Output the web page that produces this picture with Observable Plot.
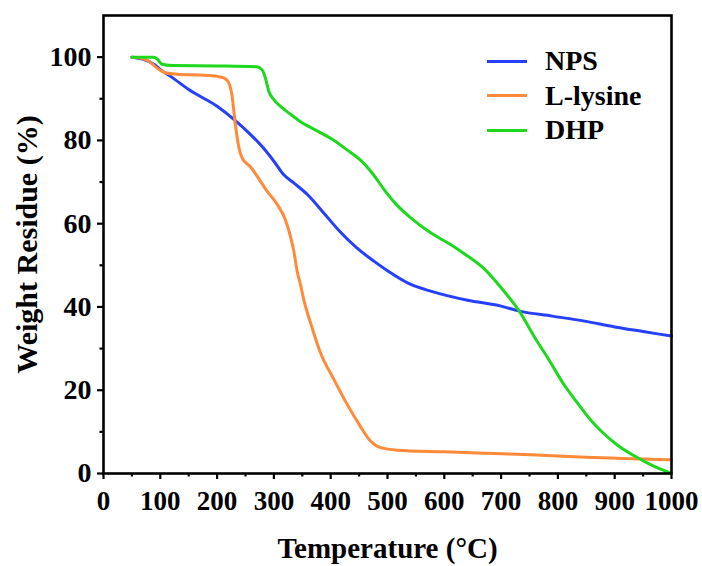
<!DOCTYPE html>
<html>
<head>
<meta charset="utf-8">
<script src="https://cdn.jsdelivr.net/npm/d3@7"></script>
<script src="https://cdn.jsdelivr.net/npm/@observablehq/plot@0.6"></script>
<style>
  html, body { margin: 0; padding: 0; background: #fff; }
  #wrap { position: relative; width: 702px; height: 566px; }
  svg text { font-family: "Liberation Serif", "Times New Roman", serif; font-weight: bold; }
  g[aria-label="x-axis label"], g[aria-label="x-axis label"] text { font-size: 29px; }
  g[aria-label="y-axis label"], g[aria-label="y-axis label"] text { font-size: 30px; }
  g[aria-label="y-axis tick label"], g[aria-label="y-axis tick label"] text { font-size: 28px; }
  #legend { position: absolute; left: 487px; top: 44px; font-family: "Liberation Serif", "Times New Roman", serif; font-weight: bold; font-size: 28px; color: #000; }
  #legend .row { display: flex; align-items: center; height: 34.5px; }
  #legend .sw { width: 40px; height: 3px; margin-right: 18px; }
</style>
</head>
<body>
<div id="wrap"><div id="legend"></div></div>
<script>
const seriesNames = ["NPS", "L-lysine", "DHP"];
const seriesColors = ["#2540F8", "#FF8A3A", "#1ED81E"];

const npsT = [50,70,90,100,120,150,200,230,259,280,300,317,335,359,390,417,445,476,500,541,576,641,700,732,790,847,900,950,1000];
const npsW = [100,99.5,98.2,97,95.2,92.2,88.2,85,81.4,78.4,75,71.8,69.8,67,62.2,58,54.3,51,48.7,45.4,43.8,41.6,40.2,39,37.8,36.6,35.2,34.1,33];

const lysT = [50,65,80,95,110,130,170,200,212,220,226,232,238,244,259,288,306,320,329,335,341,347,353,365,382,406,429,450,470,488,517,600,753,850,1000];
const lysW = [100,99.8,99,97.3,96.2,95.9,95.7,95.4,95,94,91,84,78.5,75.8,73.6,67.8,64.6,61,57,53.5,48.5,45.3,41.5,36,29,22.5,16.6,11.8,7.8,6.2,5.6,5.2,4.5,3.9,3.3];

const dhpT = [50,70,88,95,103,120,200,270,279,285,291,300,315,329,347,380,406,430,453,475,494,515,541,576,611,635,670,700,732,760,782,810,832,860,876,905,935,965,1000];
const dhpW = [100,100,100,99.5,98.3,98,97.9,97.7,97,95,91.8,89.8,87.8,86.3,84.5,82,80,77.6,75.2,71.8,68.2,64.7,61.4,57.8,55,52.8,49.2,44.6,39,32.5,27.8,21.5,17.4,12.5,10.2,6.8,4.2,2,0];

const xTicks = [0,100,200,300,400,500,600,700,800,900,1000];
const xMinor = [50,150,250,350,450,550,650,750,850,950];
const yTicks = [0,20,40,60,80,100];
const yMinor = [10,30,50,70,90];

const rows = [];
[[npsT, npsW], [lysT, lysW], [dhpT, dhpW]].forEach(([T, W], i) => {
  T.forEach((t, j) => rows.push({series: seriesNames[i], T: t, W: W[j]}));
});

const chart = Plot.plot({
  width: 702,
  height: 566,
  marginLeft: 103,
  marginRight: 31,
  marginTop: 15,
  marginBottom: 93,
  x: {domain: [0, 1000]},
  y: {domain: [0, 110]},
  color: {domain: seriesNames, range: seriesColors},
  style: {fontFamily: "Liberation Serif", fontWeight: "bold", fontSize: "27px", color: "#000", background: "#fff"},
  marks: [
    Plot.axisX(xTicks, {tickSize: 6, strokeWidth: 2.2, tickPadding: 11, fontSize: 27, tickFormat: d => String(d), label: "Temperature (°C)", labelArrow: "none", labelAnchor: "center", labelOffset: 84}),
    Plot.axisX(xMinor, {tickSize: 3.5, strokeWidth: 2.2, tickFormat: () => "", label: null}),
    Plot.axisY(yTicks, {tickSize: 6, strokeWidth: 2.2, tickPadding: 6, fontSize: 28, tickFormat: d => String(d), label: "Weight Residue (%)", labelArrow: "none", labelAnchor: "center", labelOffset: 88}),
    Plot.axisY(yMinor, {tickSize: 3.5, strokeWidth: 2.2, tickFormat: () => "", label: null}),
    Plot.line(rows, {x: "T", y: "W", stroke: "series", z: "series", curve: "monotone-x", strokeWidth: 3}),
    Plot.frame({strokeWidth: 2.6, stroke: "#000"})
  ]
});

const wrap = document.getElementById("wrap");
wrap.insertBefore(chart, wrap.firstChild);

const legend = document.getElementById("legend");
seriesNames.forEach((n, i) => {
  const row = document.createElement("div");
  row.className = "row";
  const sw = document.createElement("div");
  sw.className = "sw";
  sw.style.background = seriesColors[i];
  const t = document.createElement("span");
  t.textContent = n;
  row.appendChild(sw);
  row.appendChild(t);
  legend.appendChild(row);
});
</script>
</body>
</html>
